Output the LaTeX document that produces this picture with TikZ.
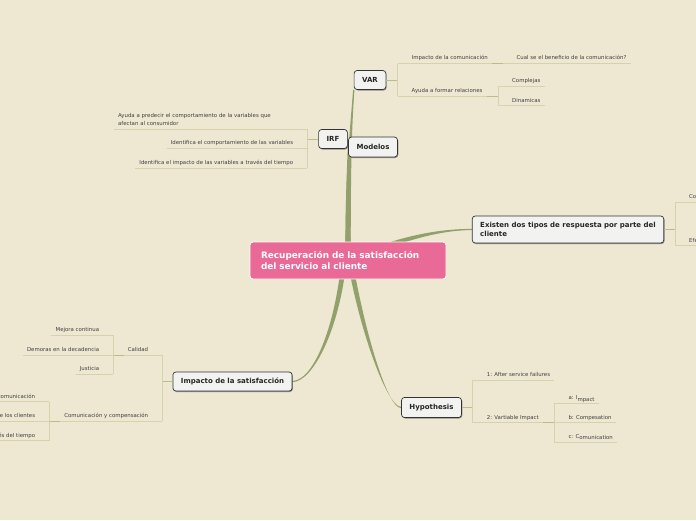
\documentclass[tikz,border=0pt]{standalone}
\usepackage{fontspec}
\setmainfont{DejaVu Sans}
\usetikzlibrary{backgrounds,shadows}
\definecolor{paper}{RGB}{238,231,210}
\definecolor{trunkgreen}{RGB}{146,161,108}
\definecolor{rootpink}{RGB}{233,106,151}
\definecolor{boxfill}{RGB}{242,242,240}
\definecolor{linkgreen}{RGB}{182,190,140}
\definecolor{leafgray}{RGB}{214,209,174}

\begin{document}
\begin{tikzpicture}[x=1pt, y=-1pt,
    root/.style={draw=white, line width=0.8pt, fill=rootpink, rounded corners=3pt, text=white, font=\bfseries\fontsize{8.9}{11.6}\selectfont, text width=174pt, align=left, inner xsep=11pt, minimum height=37pt},
    topic/.style={draw=black!80, line width=0.7pt, fill=boxfill, rounded corners=3pt, font=\bfseries\fontsize{7}{8.6}\selectfont, text=black!85, inner xsep=8pt, minimum height=19pt, drop shadow={shadow xshift=0.8pt, shadow yshift=-1pt, fill=black!60, opacity=0.7}},
    trunk/.style={fill=trunkgreen},
    link/.style={draw=linkgreen, line width=0.9pt},
    leafline/.style={draw=leafgray, line width=0.9pt},
    leaf/.style={font=\fontsize{5.4}{7.6}\selectfont, text=black!75, inner xsep=0pt, inner ysep=2.3pt, text height=4pt, text depth=1.2pt},
    rleaf/.style={leaf, anchor=south west, append after command={([xshift=-14pt]\tikzlastnode.south west) edge[leafline] ([xshift=4pt]\tikzlastnode.south east)}},
    lleaf/.style={leaf, anchor=south east, append after command={([xshift=-4pt]\tikzlastnode.south west) edge[leafline] ([xshift=14pt]\tikzlastnode.south east)}}
]
    \useasboundingbox (0,0) rectangle (696,520);

    \node[root] (root) at (348,260.5) {Recuperación de la satisfacción\\del servicio al cliente};
    \node[topic] (var) at (370,80) {VAR};
    \node[topic] (irf) at (333,139) {IRF};
    \node[topic, minimum height=20pt] (mod) at (373,147) {Modelos};
    \node[topic, align=left, minimum height=27pt] (resp) at (568,229.5) {Existen dos tipos de respuesta por parte del\\cliente};
    \node[topic] (imp) at (232.5,381.5) {Impacto de la satisfacción};
    \node[topic, minimum height=20pt] (hyp) at (431.5,407.5) {Hypothesis};

    % VAR
    \node[rleaf] (c1) at (411.5,63.5) {Impacto de la comunicación};
    \node[rleaf] (c2) at (516.5,63.5) {Cual se el beneficio de la comunicación?};
    \node[rleaf] (c3) at (411.5,96) {Ayuda a formar relaciones};
    \node[rleaf] (c4) at (512,86) {Complejas};
    \node[rleaf] (c5) at (512,105.7) {Dinamicas};
    \draw[link] (var.east) -- ([xshift=-14pt]c1.south west |- var.east);
    \draw[leafline] ([xshift=-14pt]c1.south west) -- ([xshift=-14pt]c3.south west);
    \draw[link] ([xshift=4pt]c1.south east) -- ([xshift=-14pt]c2.south west);
    \draw[link] ([xshift=4pt]c3.south east) -- ([xshift=-14pt]c4.south west |- c3.south);
    \draw[leafline] ([xshift=-14pt]c4.south west) -- ([xshift=-14pt]c5.south west);

    % IRF
    \node[lleaf, text width=175pt, align=left, text depth=8.8pt] (i1) at (293.3,129) {Ayuda a predecir el comportamiento de la variables que\\afectan al consumidor};
    \node[lleaf] (i2) at (293.3,148.3) {Identifica el comportamiento de las variables};
    \node[lleaf] (i3) at (293.3,168.3) {Identifica el impacto de las variables a través del tiempo};
    \draw[link] (irf.west) -- ([xshift=14pt]i1.south east |- irf.west);
    \draw[leafline] ([xshift=14pt]i1.south east) -- ([xshift=14pt]i3.south east);

    % Existen
    \node[rleaf] (e1) at (689,202.3) {Cognitiva};
    \node[rleaf] (e2) at (689,245.7) {Efectiva};
    \draw[link] (resp.east) -- ([xshift=-14pt]e1.south west |- resp.east);
    \draw[leafline] ([xshift=-14pt]e1.south west) -- ([xshift=-14pt]e2.south west);

    % Impacto
    \node[lleaf] (k1) at (148.3,355) {Calidad};
    \node[lleaf] (k2) at (148.3,421) {Comunicación y compensación};
    \draw[link] (imp.west) -- ([xshift=14pt]k1.south east |- imp.west);
    \draw[leafline] ([xshift=14pt]k1.south east) -- ([xshift=14pt]k2.south east);
    \node[lleaf] (k11) at (99.3,335) {Mejora continua};
    \node[lleaf] (k12) at (99.3,355) {Demoras en la decadencia};
    \node[lleaf] (k13) at (99.3,374.3) {Justicia};
    \draw[link] ([xshift=-4pt]k1.south west) -- ([xshift=14pt]k11.south east |- k1.south);
    \draw[leafline] ([xshift=14pt]k11.south east) -- ([xshift=14pt]k13.south east);
    \node[lleaf] (k21) at (35.3,401.7) {Calidad de la comunicación};
    \node[lleaf] (k22) at (35.3,421) {Percepción de los clientes};
    \node[lleaf] (k23) at (35.3,440.7) {Evolución a través del tiempo};
    \draw[link] ([xshift=-4pt]k2.south west) -- ([xshift=14pt]k21.south east |- k2.south);
    \draw[leafline] ([xshift=14pt]k21.south east) -- ([xshift=14pt]k23.south east);

    % Hypothesis
    \node[rleaf] (h1) at (486.7,380) {1: After service failures};
    \node[rleaf] (h2) at (486.7,422.7) {2: Vartiable Impact};
    \draw[link] (hyp.east) -- ([xshift=-14pt]h1.south west |- hyp.east);
    \draw[leafline] ([xshift=-14pt]h1.south west) -- ([xshift=-14pt]h2.south west);
    \node[rleaf] (h21) at (568.3,403.3) {a: I\raisebox{-1.6pt}{mpact}};
    \node[rleaf] (h22) at (568.3,422.7) {b: Compesation};
    \node[rleaf] (h23) at (568.3,442) {c: C\raisebox{-1.6pt}{omunication}};
    \draw[link] ([xshift=4pt]h2.south east) -- ([xshift=-14pt]h21.south west |- h2.south);
    \draw[leafline] ([xshift=-14pt]h21.south west) -- ([xshift=-14pt]h23.south west);

    \begin{pgfonlayer}{background}
        \fill[paper] (0,0) rectangle (696,520);
        % tapered main branches
        \fill[trunk] ([xshift=-2.7pt]root.center) .. controls +(0,-90) and +(-3,40) .. ([xshift=-0.7pt]var.south west) -- ([xshift=0.7pt]var.south west) .. controls +(-3,40) and +(0,-90) .. ([xshift=2.7pt]root.center) -- cycle;
        \fill[trunk] ([xshift=-2.6pt]root.center) .. controls +(0,-60) and +(-1,30) .. ([xshift=-0.5pt]mod.west) -- ([xshift=1.5pt]mod.west) .. controls +(-1,30) and +(0,-60) .. ([xshift=2.6pt]root.center) -- cycle;
        \fill[trunk] ([xshift=-6.5pt]root.center) .. controls +(-7,70) and +(20,0) .. ([yshift=0.6pt]imp.east) -- ([yshift=-0.6pt]imp.east) .. controls +(20,0) and +(-7,70) .. ([xshift=-1.5pt]root.center) -- cycle;
        \fill[trunk] ([xshift=-0.5pt]root.center) .. controls +(12,70) and +(-14,0) .. ([yshift=0.6pt]hyp.west) -- ([yshift=-0.6pt]hyp.west) .. controls +(-14,0) and +(12,70) .. ([xshift=4.5pt]root.center) -- cycle;
        \fill[trunk] ([yshift=3pt]root.center) .. controls +(52,-22) and +(-33,0) .. ([yshift=0.6pt]resp.west) -- ([yshift=-0.6pt]resp.west) .. controls +(-33,0) and +(52,-22) .. ([yshift=-3pt]root.center) -- cycle;
    \end{pgfonlayer}
\end{tikzpicture}
\end{document}
